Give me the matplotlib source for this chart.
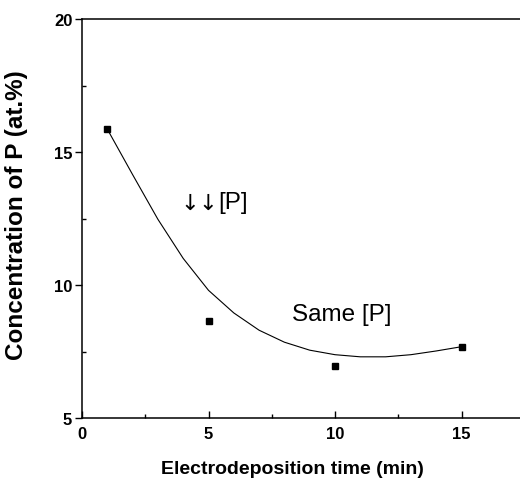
import matplotlib
matplotlib.use("Agg")
import matplotlib.pyplot as plt
from matplotlib.ticker import MultipleLocator

# data
time_min = [1, 5, 10, 15]
conc_p = [15.86, 8.66, 6.97, 7.66]

curve_x = [1, 2, 3, 4, 5, 6, 7, 8, 9, 10, 11, 12, 13, 14, 15]
curve_y = [15.86, 14.15, 12.47, 11.0, 9.8, 8.95, 8.3, 7.85, 7.55, 7.38, 7.3, 7.3, 7.38, 7.52, 7.68]

xticks = [0, 5, 10, 15]
yticks = [5, 10, 15, 20]

fig = plt.figure(figsize=(5.2, 4.85), dpi=100)
W, H = 520, 485
x0, y0, y1 = 82, 419, 20
ax = fig.add_axes([x0 / W, (H - y0) / H, (W - x0) / W, (y0 - y1) / H])

ax.plot(curve_x, curve_y, color="black", lw=0.8)
ax.plot(time_min, conc_p, ls="none", marker="s", ms=4.5, color="black")

ax.set_xlim(0, (W - x0) / 25.3)
ax.set_ylim(5, 20)
ax.set_xticks(xticks)
ax.set_yticks(yticks)
ax.xaxis.set_minor_locator(MultipleLocator(2.5))
ax.yaxis.set_minor_locator(MultipleLocator(2.5))
ax.spines["right"].set_visible(False)
for s in ["left", "bottom", "top"]:
    ax.spines[s].set_linewidth(1.1)
ax.tick_params(axis="x", which="major", direction="in", length=5, width=1, pad=6)
ax.tick_params(axis="x", which="minor", direction="in", length=3, width=1)
ax.tick_params(axis="y", which="major", direction="out", length=5, width=1, pad=2)
ax.tick_params(axis="y", which="minor", direction="in", length=3, width=1)
ax.tick_params(top=False, right=False, which="both")

for lab in ax.get_xticklabels() + ax.get_yticklabels():
    lab.set_fontfamily(["Liberation Sans", "DejaVu Sans"])
    lab.set_fontweight("bold")
    lab.set_fontsize(12)

fig.text(17 / W, (H - 215) / H, "Concentration of P (at.%)", rotation=90,
         ha="center", va="center", fontsize=17.5, fontweight="bold",
         family=["Liberation Sans", "DejaVu Sans"])
fig.text(292 / W, (H - 470) / H, "Electrodeposition time (min)",
         ha="center", va="center", fontsize=14, fontweight="bold",
         family=["Liberation Sans", "DejaVu Sans"])

ax.text(4.27, 13.1, "\u2193", ha="center", va="center", fontsize=16,
        family=["DejaVu Sans"])
ax.text(4.98, 13.1, "\u2193", ha="center", va="center", fontsize=16,
        family=["DejaVu Sans"])
ax.text(5.38, 13.12, "[P]", ha="left", va="center", fontsize=17.5,
        family=["Liberation Sans", "DejaVu Sans"])
ax.text(8.3, 8.9, "Same [P]", ha="left", va="center", fontsize=17.5,
        family=["Liberation Sans", "DejaVu Sans"])

fig.savefig("out.png", dpi=100)
